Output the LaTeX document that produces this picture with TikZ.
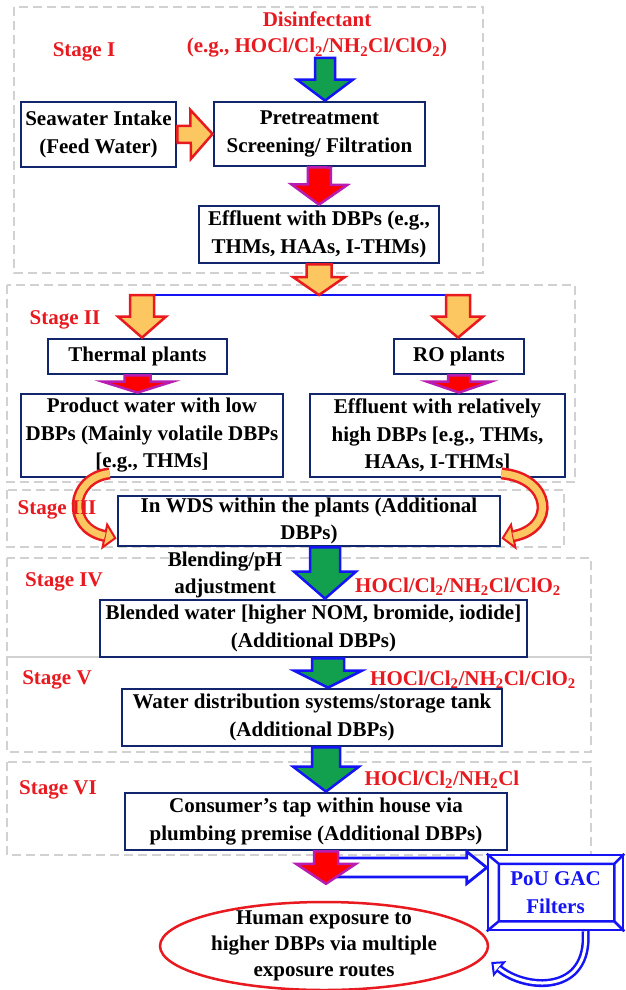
\documentclass[tikz,border=0pt]{standalone}
\usepackage{fontspec}
\setmainfont{Liberation Serif}
\usetikzlibrary{calc,shapes.geometric,arrows.meta}

\definecolor{boxblue}{RGB}{18,38,110}
\definecolor{stagered}{RGB}{232,26,32}
\definecolor{arrowfill}{RGB}{252,198,96}
\definecolor{arrowgreen}{RGB}{18,160,78}
\definecolor{arrowpink}{RGB}{184,28,176}
\definecolor{linkblue}{RGB}{20,20,245}

% block arrow: style, from, to, shaft half width, head half width, head length
\newcommand{\blockarrow}[6]{%
  \coordinate (ba-h) at ($(#3)!#6!(#2)$);
  \draw[#1] ($(#2)!#4!90:(#3)$) -- ($(ba-h)!#4!90:(#3)$) -- ($(ba-h)!#5!90:(#3)$) -- (#3)
    -- ($(ba-h)!#5!-90:(#3)$) -- ($(ba-h)!#4!-90:(#3)$) -- ($(#2)!#4!-90:(#3)$) -- cycle;
}
% bent arrow drawn twice: outer style, inner style, path
\newcommand{\bentarrow}[3]{\draw[#1] #3; \draw[#2] #3;}

\begin{document}
\begin{tikzpicture}[x=1pt, y=-1pt,
    every node/.style={font=\bfseries\fontsize{21}{27.5}\selectfont, align=center},
    box/.style={draw=boxblue, line width=2.8pt, fill=white, inner sep=2pt},
    stagebox/.style={draw=black!18, dash pattern=on 9pt off 5pt, line width=1.2pt},
    stagetext/.style={text=stagered},
    greenarrow/.style={fill=arrowgreen, draw=linkblue, line width=2.5pt},
    orangearrow/.style={fill=arrowfill, draw=stagered, line width=2.5pt},
    redarrow/.style={fill=red, draw=arrowpink, line width=2.5pt},
    hollowarrow/.style={fill=white, draw=linkblue, line width=2.8pt}]
    \path[use as bounding box, fill=white] (0,0) rectangle (625,990);

    \draw[stagebox] (14,7) rectangle (483,273);
    \draw[stagebox] (7,285) rectangle (575,482);
    \draw[stagebox] (7,490) rectangle (564,547);
    \draw[stagebox] (7,558) rectangle (591,657);
    \draw[stagebox] (7,657) rectangle (591,752);
    \draw[stagebox] (7,762) rectangle (591,855);

    \node[stagetext] at (317,19)(disinf){Disinfectant};
    \node[stagetext] at (317,48)(disinfeg){(e.g., HOCl/Cl\textsubscript{2}/NH\textsubscript{2}Cl/ClO\textsubscript{2})};
    \node at (225,575)(blending){Blending/pH\\adjustment};
    \node[stagetext] at (458,587)(dose4){HOCl/Cl\textsubscript{2}/NH\textsubscript{2}Cl/ClO\textsubscript{2}};
    \node[stagetext] at (473,680)(dose5){HOCl/Cl\textsubscript{2}/NH\textsubscript{2}Cl/ClO\textsubscript{2}};
    \node[stagetext] at (442,780)(dose6){HOCl/Cl\textsubscript{2}/NH\textsubscript{2}Cl};

    \node[box, minimum width=155pt, minimum height=65pt] at (98.5,134.5)(intake){Seawater Intake\\(Feed Water)};
    \node[box, minimum width=211pt, minimum height=64pt] at (319.5,134)(pretreat){Pretreatment\\Screening/ Filtration};
    \node[box, minimum width=240pt, minimum height=57pt] at (319,234.5)(effluent){Effluent with DBPs (e.g.,\\THMs, HAAs, I-THMs)};
    \node[box, minimum width=179pt, minimum height=35pt] at (137.5,356.5)(thermal){Thermal plants};
    \node[box, minimum width=130pt, minimum height=35pt] at (459,356.5)(ro){RO plants};
    \node[box, minimum width=262pt, minimum height=83pt] at (152,435.5)(product){Product water with low\\DBPs (Mainly volatile DBPs\\{[}e.g., THMs{]}};
    \node[box, minimum width=255pt, minimum height=83pt] at (437.5,435.5)(roeff){Effluent with relatively\\high DBPs [e.g., THMs,\\HAAs, I-THMs]};
    \node[box, minimum width=382pt, minimum height=50pt, inner sep=0pt] at (309,521)(wds){In WDS within the plants (Additional\\DBPs)};
    \node[box, minimum width=427pt, minimum height=57pt] at (313.5,628.5)(blended){Blended water [higher NOM, bromide, iodide]\\(Additional DBPs)};
    \node[box, minimum width=380pt, minimum height=57pt] at (312,717.5)(wdsys){Water distribution systems/storage tank\\(Additional DBPs)};
    \node[box, minimum width=382pt, minimum height=57pt] at (316,821.5)(consumer){Consumer’s tap within house via\\plumbing premise (Additional DBPs)};
    \node[draw=linkblue, line width=2.5pt, fill=white, text=linkblue, minimum width=135pt, minimum height=75pt] at (555.5,892.5)(pou){PoU GAC\\Filters};
    \draw[linkblue, line width=2.5pt] ($(pou.north west)+(12,10)$) rectangle ($(pou.south east)+(-10,-10)$)
        (pou.north west) -- ++(12,10) (pou.north east) -- ++(-10,10)
        (pou.south west) -- ++(12,-10) (pou.south east) -- ++(-10,-10);
    \node[ellipse, draw=stagered, line width=2.5pt, minimum width=328pt, minimum height=88pt] at (324,946)(human){};
    \node[font=\bfseries\fontsize{21}{26}\selectfont] at (human.center)(humantext){Human exposure to\\higher DBPs via multiple\\exposure routes};

    % stage I
    \coordinate (distop) at (325,58);
    \coordinate (distip) at (distop |- pretreat.north);
    \blockarrow{greenarrow}{distop}{distip}{10pt}{28pt}{21pt}
    \blockarrow{orangearrow}{intake.east}{pretreat.west}{8.5pt}{24.5pt}{22pt}
    \blockarrow{redarrow}{pretreat.south}{effluent.north}{11.5pt}{28pt}{20pt}

    % stage II
    \coordinate (split) at (319,295);
    \coordinate (splitl) at (142,295);
    \coordinate (splitr) at (458,295);
    \draw[linkblue, line width=2.5pt] (splitl) -- (splitr);
    \blockarrow{orangearrow}{effluent.south}{split}{12.5pt}{26pt}{18pt}
    \coordinate (thermaltop) at (splitl |- thermal.north);
    \coordinate (rotop) at (splitr |- ro.north);
    \blockarrow{orangearrow}{splitl}{thermaltop}{12pt}{24pt}{21pt}
    \blockarrow{orangearrow}{splitr}{rotop}{12pt}{25pt}{21pt}
    \coordinate (producttop) at (thermal.south |- product.north);
    \coordinate (roefftop) at (ro.south |- roeff.north);
    \blockarrow{redarrow}{thermal.south}{producttop}{13pt}{35pt}{11pt}
    \blockarrow{redarrow}{ro.south}{roefftop}{11pt}{32pt}{11pt}

    % stage III
    \path (product.south west) ++(90,-5) coordinate (lefttail);
    \path (wds.south west) ++(0,-9) coordinate (wdsleft);
    \path (roeff.south east) ++(-65,-5) coordinate (righttail);
    \path (wds.south east) ++(0,-9) coordinate (wdsright);
    \bentarrow{stagered, line width=12pt, -{Triangle[length=13pt, width=28pt, fill=arrowfill, line width=2pt]}}
        {arrowfill, line width=7pt, shorten >=12pt}
        {(lefttail) .. controls (70,478) and (66,528) .. (wdsleft)}
    \bentarrow{stagered, line width=12pt, -{Triangle[length=13pt, width=28pt, fill=arrowfill, line width=2pt]}}
        {arrowfill, line width=7pt, shorten >=12pt}
        {(righttail) .. controls (552,478) and (556,528) .. (wdsright)}

    % stages IV to VI
    \path (wds.south) ++(16,0) coordinate (g4top);
    \coordinate (g4tip) at (g4top |- blended.north);
    \blockarrow{greenarrow}{g4top}{g4tip}{15pt}{31pt}{27pt}
    \path (blended.south) ++(14.5,0) coordinate (g5top);
    \coordinate (g5tip) at (g5top |- wdsys.north);
    \blockarrow{greenarrow}{g5top}{g5tip}{16pt}{34pt}{17pt}
    \path (wdsys.south) ++(14,0) coordinate (g6top);
    \coordinate (g6tip) at (g6top |- consumer.north);
    \blockarrow{greenarrow}{g6top}{g6tip}{14pt}{33pt}{25pt}

    % exposure and filters
    \path (consumer.south) ++(10,0) coordinate (r6top);
    \path (r6top |- human.north) ++(0,-17) coordinate (r6tip);
    \coordinate (tap) at ($(r6top)!0.5!(r6tip)$);
    \coordinate (gacin) at (tap -| pou.west);
    \blockarrow{hollowarrow}{tap}{gacin}{9.5pt}{16pt}{20pt}
    \blockarrow{redarrow}{r6top}{r6tip}{12pt}{30pt}{20pt}
    \path (pou.south) ++(30,0) coordinate (gacout);
    \path (human.east) ++(2,16) coordinate (gacback);
    \bentarrow{linkblue, line width=8pt, -{Triangle[length=11pt, width=20pt, fill=white, line width=2pt]}}
        {white, line width=3pt, shorten >=10pt}
        {(gacout) .. controls (590,995) and (525,990) .. (gacback)}

    % stage labels on top
    \node[stagetext] at (84,52)(s1){Stage I};
    \node[stagetext] at (65,320)(s2){Stage II};
    \node[stagetext] at (57,510)(s3){Stage III};
    \node[stagetext] at (64,582)(s4){Stage IV};
    \node[stagetext] at (57,680)(s5){Stage V};
    \node[stagetext] at (58,790)(s6){Stage VI};
\end{tikzpicture}
\end{document}
